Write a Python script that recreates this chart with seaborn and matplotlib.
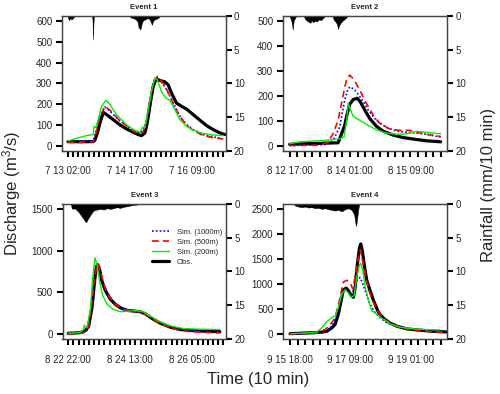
import numpy as np
import pandas as pd
import matplotlib
matplotlib.use("Agg")
import matplotlib.pyplot as plt
import seaborn as sns

# ==========================
# Data (time in 10-min steps, discharge in m3/s, rain in mm/10 min)
# ==========================

# Event 1
e1_obs_t = [0, 50, 98, 104, 114, 124, 137, 150, 175, 201, 227, 253, 272, 285, 298, 307, 317, 330, 341, 356, 375, 388, 401, 420, 440, 459, 485, 511, 537, 562, 588, 608]
e1_obs_q = [19, 18, 19, 25, 60, 109, 160, 149, 125, 100, 80, 64, 53, 48, 61, 109, 189, 285, 320, 314, 307, 293, 253, 205, 189, 176, 149, 122, 96, 77, 61, 53]
e1_s1000_t = [0, 98, 111, 124, 143, 163, 195, 227, 266, 292, 304, 317, 333, 346, 362, 382, 408, 433, 459, 485, 524, 562, 588]
e1_s1000_q = [19, 22, 77, 144, 186, 165, 125, 96, 61, 69, 125, 221, 314, 330, 309, 269, 205, 144, 101, 77, 53, 42, 35]
e1_s500_t = [0, 98, 111, 124, 143, 163, 195, 227, 266, 292, 304, 317, 333, 346, 362, 382, 408, 433, 459, 485, 524, 562, 601]
e1_s500_q = [15, 18, 70, 138, 189, 170, 127, 95, 60, 66, 120, 215, 312, 333, 312, 272, 200, 140, 98, 72, 48, 38, 32]
e1_s200_t = [0, 34, 72, 98, 101, 108, 117, 130, 147, 163, 188, 227, 253, 279, 289, 298, 311, 324, 337, 346, 362, 379, 395, 414, 433, 459, 485, 524, 562, 601]
e1_s200_q = [22, 35, 48, 53, 93, 85, 125, 189, 218, 197, 149, 100, 77, 64, 90, 85, 173, 269, 325, 317, 261, 229, 218, 173, 125, 93, 74, 58, 51, 48]
e1_rain_t = [0, 5, 10, 15, 21, 27, 93, 95, 97, 99, 101, 240, 243, 253, 263, 270, 273, 279, 283, 286, 292, 299, 307, 315, 321, 325, 329, 335, 343, 351, 356]
e1_rain = [0.3, 0.6, 0.3, 0.5, 0.2, 0, 0, 0.5, 3.5, 1.0, 0, 0, 0.2, 0.3, 0.5, 0.9, 1.6, 2.0, 1.7, 1.0, 0.6, 0.5, 0.3, 0.4, 0.9, 1.3, 0.8, 0.5, 0.4, 0.2, 0]

# Event 2
e2_obs_t = [0, 74, 154, 159, 167, 175, 183, 191, 202, 215, 225, 239, 255, 276, 297, 329, 361, 393, 435, 480]
e2_obs_q = [5, 8, 11, 27, 54, 81, 128, 166, 185, 190, 175, 142, 108, 77, 58, 42, 32, 26, 19, 15]
e2_s1000_t = [0, 117, 138, 159, 175, 186, 193, 207, 228, 250, 276, 308, 340, 372, 404, 435, 480]
e2_s1000_q = [0, 4, 20, 74, 182, 229, 236, 223, 189, 142, 101, 72, 58, 53, 50, 45, 34]
e2_s500_t = [0, 96, 122, 138, 154, 170, 181, 191, 204, 223, 244, 266, 287, 319, 350, 382, 414, 446, 480]
e2_s500_q = [0, 1, 13, 47, 101, 202, 267, 283, 266, 223, 169, 121, 88, 66, 61, 61, 51, 43, 36]
e2_s200_t = [0, 32, 74, 127, 159, 173, 181, 186, 193, 202, 223, 244, 276, 308, 340, 372, 404, 435, 480]
e2_s200_q = [7, 15, 18, 22, 27, 34, 101, 171, 144, 117, 101, 85, 63, 50, 45, 47, 57, 53, 47]
e2_rain_t = [0, 3, 6, 10, 13, 17, 21, 45, 49, 55, 62, 66, 70, 74, 81, 87, 93, 100, 106, 112, 136, 141, 147, 151, 154, 157, 162, 168, 173, 178, 184]
e2_rain = [0, 0.4, 0.8, 2.0, 0.7, 0.3, 0, 0, 0.4, 0.7, 0.9, 1.0, 0.6, 0.9, 0.7, 0.8, 0.5, 0.6, 0.3, 0, 0, 0.6, 0.9, 1.3, 1.9, 1.4, 1.0, 0.7, 0.5, 0.3, 0]

# Event 3
e3_obs_t = [0, 46, 66, 79, 92, 101, 108, 114, 121, 130, 143, 163, 182, 201, 227, 253, 279, 298, 324, 356, 395, 433, 485, 537, 586]
e3_obs_q = [8, 16, 40, 93, 315, 598, 800, 832, 780, 638, 525, 416, 356, 315, 283, 275, 267, 242, 186, 129, 81, 53, 40, 32, 28]
e3_s1000_t = [0, 72, 92, 108, 115, 130, 150, 182, 214, 253, 285, 317, 356, 408, 459, 524, 586]
e3_s1000_q = [0, 30, 376, 800, 832, 659, 497, 364, 303, 275, 263, 210, 137, 73, 44, 32, 24]
e3_s500_t = [0, 59, 79, 92, 104, 114, 124, 137, 156, 182, 214, 253, 285, 317, 356, 408, 459, 524, 586]
e3_s500_q = [0, 12, 93, 396, 719, 840, 760, 598, 457, 356, 295, 275, 263, 202, 121, 61, 32, 20, 12]
e3_s200_t = [0, 46, 59, 62, 67, 72, 85, 95, 104, 111, 121, 134, 150, 175, 201, 240, 266, 292, 317, 356, 395, 446, 511, 586]
e3_s200_q = [8, 20, 53, 105, 80, 73, 275, 679, 913, 840, 638, 457, 356, 295, 267, 275, 283, 263, 214, 145, 97, 65, 57, 53]
e3_rain_t = [10, 14, 27, 40, 49, 57, 65, 70, 75, 80, 88, 98, 111, 124, 137, 150, 163, 175, 188, 201, 214, 227, 240, 253, 266, 272]
e3_rain = [0, 0.7, 0.7, 1.2, 1.7, 2.1, 2.6, 2.7, 2.3, 2.0, 1.5, 1.0, 0.85, 0.75, 0.85, 0.65, 0.75, 0.65, 0.5, 0.6, 0.45, 0.35, 0.25, 0.15, 0.1, 0]

# Event 4
e4_obs_t = [0, 66, 119, 146, 166, 179, 192, 203, 212, 223, 232, 243, 252, 259, 268, 276, 281, 288, 296, 305, 318, 332, 352, 372, 398, 425, 464, 518, 571, 620]
e4_obs_q = [7, 20, 34, 54, 122, 190, 394, 665, 883, 917, 869, 767, 733, 937, 1412, 1718, 1799, 1650, 1344, 1073, 869, 665, 428, 312, 217, 156, 102, 75, 54, 41]
e4_s1000_t = [0, 119, 146, 166, 186, 206, 219, 232, 245, 259, 269, 279, 289, 303, 318, 338, 358, 385, 425, 478, 544, 620]
e4_s1000_q = [0, 14, 54, 156, 360, 767, 903, 856, 788, 971, 1107, 1127, 1005, 801, 597, 428, 326, 224, 143, 88, 61, 41]
e4_s500_t = [0, 106, 139, 159, 179, 196, 212, 226, 239, 249, 263, 273, 280, 289, 303, 316, 332, 352, 378, 411, 451, 504, 557, 620]
e4_s500_q = [0, 20, 88, 177, 326, 665, 1039, 1073, 1019, 903, 1243, 1582, 1684, 1446, 1107, 835, 631, 428, 292, 177, 109, 68, 48, 34]
e4_s200_t = [0, 66, 106, 126, 146, 166, 179, 192, 206, 219, 232, 243, 255, 265, 276, 281, 289, 299, 312, 325, 345, 372, 398, 438, 491, 544, 597]
e4_s200_q = [7, 20, 41, 122, 244, 326, 360, 530, 801, 883, 815, 733, 767, 1141, 1378, 1412, 1277, 937, 665, 462, 394, 292, 204, 136, 102, 88, 81]
e4_rain_t = [13, 20, 33, 46, 60, 73, 86, 100, 113, 126, 139, 153, 166, 179, 192, 206, 219, 232, 245, 255, 260, 263, 267, 271, 275]
e4_rain = [0, 0.25, 0.4, 0.5, 0.4, 0.55, 0.5, 0.65, 0.6, 0.75, 0.65, 0.8, 0.9, 1.0, 0.9, 1.1, 0.8, 0.65, 0.9, 1.6, 2.9, 3.3, 2.1, 0.9, 0]

# time axis labels
e1_xlabels = ['7 13 02:00', '7 14 17:00', '7 16 09:00']
e2_xlabels = ['8 12 17:00', '8 14 01:00', '8 15 09:00']
e3_xlabels = ['8 22 22:00', '8 24 13:00', '8 26 05:00']
e4_xlabels = ['9 15 18:00', '9 17 09:00', '9 19 01:00']

legend_labels = ['Sim. (1000m)', 'Sim. (500m)', 'Sim. (200m)', 'Obs.']

# ==========================
# Style
# ==========================

sns.set_style("ticks")
plt.rcParams['font.family'] = ['Liberation Sans', 'DejaVu Sans']
plt.rcParams['mathtext.fontset'] = 'custom'
plt.rcParams['mathtext.rm'] = 'Liberation Sans'
plt.rcParams['mathtext.it'] = 'Liberation Sans'

edge = '#444444'
tick_col = 'black'

fig = plt.figure(figsize=(5, 3.94), dpi=100)


def draw_panel(rect, title, obs, s1000, s500, s200, rain, qmax, qstep,
               tick_step, label_step, xlabels, xlim):
    ax = fig.add_axes(rect)

    sns.lineplot(x=obs[0], y=obs[1], ax=ax, color='black', linewidth=2.3,
                 sort=False, label=legend_labels[3])
    sns.lineplot(x=s1000[0], y=s1000[1], ax=ax, color='blue', linewidth=1.2,
                 linestyle=(0, (1, 1.3)), sort=False, label=legend_labels[0])
    sns.lineplot(x=s500[0], y=s500[1], ax=ax, color='red', linewidth=1.2,
                 linestyle=(0, (4, 2.5)), sort=False, label=legend_labels[1])
    sns.lineplot(x=s200[0], y=s200[1], ax=ax, color='#00ee00', linewidth=1.0,
                 sort=False, label=legend_labels[2])
    leg = ax.get_legend()
    if leg is not None:
        leg.remove()

    ax.set_xlim(*xlim)
    ax.set_ylim(-0.04 * qmax, 1.04 * qmax)
    ax.set_yticks(np.arange(0, qmax + 1, qstep))

    ticks = np.arange(0, xlim[1], tick_step)
    labels = [''] * len(ticks)
    for i, lab in enumerate(xlabels):
        labels[i * label_step] = lab
    ax.set_xticks(ticks, labels)
    ax.set_xlabel('')
    ax.set_ylabel('')
    ax.set_title(title, fontsize=5.5, fontweight='bold', pad=5)

    ax.tick_params(axis='y', direction='out', length=4, width=1.5, color=tick_col,
                   labelsize=7, pad=3, left=True)
    ax.tick_params(axis='x', direction='out', length=4, width=1.5, color=tick_col,
                   labelsize=7, pad=7.5, bottom=True)
    for sp in ax.spines.values():
        sp.set_color(edge)
        sp.set_linewidth(0.9)

    ax2 = ax.twinx()
    ax2.fill_between(rain[0], 0, rain[1], color='black', linewidth=0.3)
    ax2.set_ylim(20, 0)
    ax2.set_yticks([0, 5, 10, 15, 20])
    ax2.tick_params(axis='y', direction='out', length=4, width=1.5, color=tick_col,
                    labelsize=7, pad=2, right=True)
    for sp in ax2.spines.values():
        sp.set_color(edge)
        sp.set_linewidth(0.9)
    return ax


ax1 = draw_panel([0.124, 0.618, 0.327, 0.341], 'Event 1',
                 (e1_obs_t, e1_obs_q), (e1_s1000_t, e1_s1000_q), (e1_s500_t, e1_s500_q),
                 (e1_s200_t, e1_s200_q), (e1_rain_t, e1_rain),
                 600, 100, 20, 12, e1_xlabels, (-23, 610))
ax2 = draw_panel([0.566, 0.618, 0.328, 0.341], 'Event 2',
                 (e2_obs_t, e2_obs_q), (e2_s1000_t, e2_s1000_q), (e2_s500_t, e2_s500_q),
                 (e2_s200_t, e2_s200_q), (e2_rain_t, e2_rain),
                 500, 100, 24, 8, e2_xlabels, (-21, 500))
ax3 = draw_panel([0.125, 0.1396, 0.327, 0.343], 'Event 3',
                 (e3_obs_t, e3_obs_q), (e3_s1000_t, e3_s1000_q), (e3_s500_t, e3_s500_q),
                 (e3_s200_t, e3_s200_q), (e3_rain_t, e3_rain),
                 1500, 500, 20, 12, e3_xlabels, (-22, 610))
ax4 = draw_panel([0.566, 0.1396, 0.328, 0.343], 'Event 4',
                 (e4_obs_t, e4_obs_q), (e4_s1000_t, e4_s1000_q), (e4_s500_t, e4_s500_q),
                 (e4_s200_t, e4_s200_q), (e4_rain_t, e4_rain),
                 2500, 500, 30, 8, e4_xlabels, (-28, 624))

# legend in Event 3, ordered like the original
handles, labels = ax3.get_legend_handles_labels()
order = [labels.index(l) for l in legend_labels]
ax3.legend([handles[i] for i in order], legend_labels, loc='upper right',
           bbox_to_anchor=(0.995, 0.84), frameon=False, fontsize=5.5,
           handlelength=2.2, handletextpad=1.0, labelspacing=0.35,
           borderaxespad=0)

fig.text(0.024, 0.51, 'Discharge (m$^3$/s)', rotation=90, fontsize=12,
         ha='center', va='center')
fig.text(0.978, 0.53, 'Rainfall (mm/10 min)', rotation=90, fontsize=12,
         ha='center', va='center')
fig.text(0.516, 0.036, 'Time (10 min)', fontsize=12, ha='center', va='center')

plt.savefig('out.png', dpi=100)
